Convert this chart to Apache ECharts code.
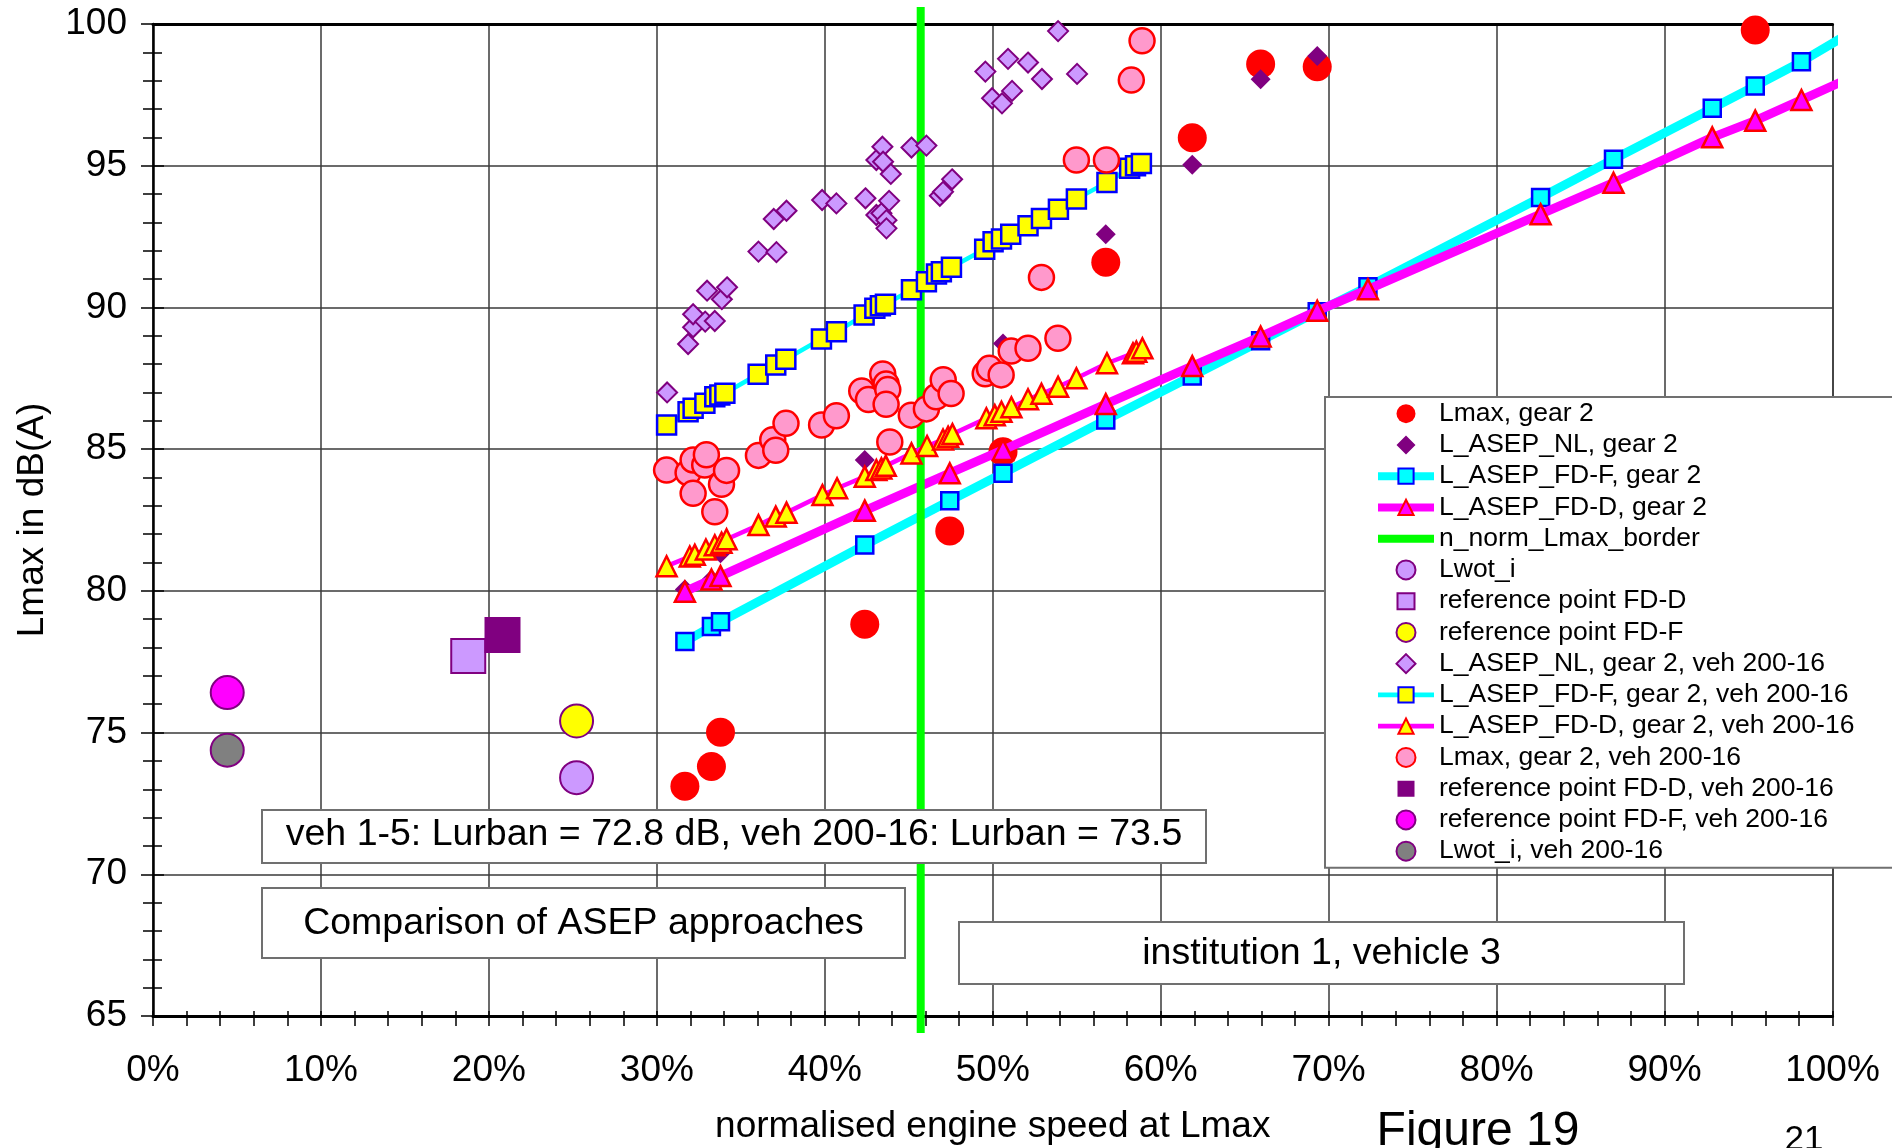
<!DOCTYPE html>
<html>
<head>
<meta charset="utf-8">
<script src="https://cdn.jsdelivr.net/npm/echarts@6/dist/echarts.min.js"></script>
<style>
  html, body { margin: 0; padding: 0; background: #fff; }
  #chart { width: 1892px; height: 1148px; }
</style>
</head>
<body>
<div id="chart"></div>
<script>
// ---- axis tick labels ----
const xTickLabels = ['0%', '10%', '20%', '30%', '40%', '50%', '60%', '70%', '80%', '90%', '100%'];
const yTickLabels = ['65', '70', '75', '80', '85', '90', '95', '100'];

// ---- vehicle 1-5, gear 2: [n_norm in %, level in dB(A)] ----
const lmaxGear2 = [[31.67, 73.11], [33.25, 73.80], [33.79, 75.01], [42.38, 78.82], [47.44, 82.11],
  [50.61, 84.91], [56.73, 91.59], [61.88, 95.99], [65.95, 98.59], [69.32, 98.49], [95.40, 99.79]];
const nlGear2 = [[31.67, 80.05], [33.25, 80.40], [33.79, 81.33], [42.38, 84.62], [50.61, 88.73],
  [56.73, 92.58], [61.88, 95.03], [65.95, 98.05], [69.32, 98.87]];
const fdfGear2 = [[31.67, 78.21], [33.25, 78.74], [33.79, 78.91], [42.38, 81.62], [47.44, 83.18],
  [50.61, 84.15], [56.73, 86.03], [61.88, 87.58], [65.95, 88.82], [69.32, 89.85], [72.34, 90.73],
  [82.62, 93.88], [86.96, 95.23], [92.84, 97.03], [95.40, 97.81], [98.15, 98.67]];
const fdfGear2End = [100.98, 99.67];
const fddGear2 = [[31.67, 79.97], [33.25, 80.40], [33.79, 80.52], [42.38, 82.83], [47.44, 84.15],
  [50.61, 84.97], [56.73, 86.59], [61.88, 87.93], [65.95, 88.97], [69.32, 89.88], [72.34, 90.64],
  [82.62, 93.29], [86.96, 94.40], [92.84, 96.00], [95.40, 96.59], [98.15, 97.32]];
const fddGear2End = [100.98, 98.08];
const borderLine = [[45.71, 100.6], [45.71, 64.4]];
const lwot = [[25.22, 73.41]];
const refFDD = [[18.77, 77.70]];
const refFDF = [[25.22, 75.41]];

// ---- vehicle 200-16, gear 2 ----
const nlVeh = [[30.61, 87.00], [31.86, 88.71], [32.16, 89.30], [32.16, 89.76], [32.88, 89.50],
  [33.45, 89.52], [33.87, 90.29], [32.99, 90.59], [34.18, 90.71], [36.05, 91.97], [37.12, 91.95],
  [36.96, 93.12], [37.72, 93.41], [39.84, 93.79], [40.69, 93.67], [42.42, 93.85], [43.07, 93.26],
  [43.37, 93.32], [43.67, 93.08], [43.67, 92.79], [43.83, 93.76], [43.07, 95.20], [43.43, 95.67],
  [43.47, 95.14], [43.93, 94.71], [45.16, 95.64], [46.05, 95.71], [46.85, 93.94], [47.04, 94.08],
  [47.58, 94.52], [49.56, 98.32], [49.96, 97.38], [50.55, 97.20], [50.91, 98.77], [51.15, 97.64],
  [52.10, 98.64], [52.93, 98.06], [53.89, 99.75], [55.02, 98.24]];
const fdfVeh = [[30.58, 85.85], [31.86, 86.32], [32.16, 86.44], [32.86, 86.62], [33.45, 86.85],
  [33.75, 86.91], [34.05, 86.97], [36.03, 87.64], [37.08, 87.97], [37.68, 88.17], [39.80, 88.89],
  [40.69, 89.14], [42.34, 89.73], [42.98, 89.97], [43.31, 90.06], [43.61, 90.11], [45.16, 90.62],
  [46.05, 90.91], [46.65, 91.18], [46.94, 91.26], [47.54, 91.42], [49.52, 92.05], [50.02, 92.32],
  [50.52, 92.41], [51.07, 92.58], [52.10, 92.88], [52.90, 93.14], [53.91, 93.46], [54.98, 93.83],
  [56.80, 94.41], [58.15, 94.91], [58.50, 95.00], [58.85, 95.08]];
const fddVeh = [[30.58, 80.87], [31.96, 81.21], [32.26, 81.27], [32.92, 81.46], [33.45, 81.61],
  [33.85, 81.70], [34.15, 81.82], [36.05, 82.32], [37.08, 82.62], [37.72, 82.76], [39.86, 83.38],
  [40.73, 83.62], [42.38, 84.03], [43.07, 84.26], [43.37, 84.32], [43.63, 84.41], [45.16, 84.85],
  [46.09, 85.11], [47.04, 85.34], [47.34, 85.44], [47.60, 85.53], [49.62, 86.09], [50.12, 86.20],
  [50.52, 86.32], [51.11, 86.48], [52.10, 86.76], [52.90, 86.95], [53.89, 87.20], [54.98, 87.50],
  [56.80, 88.03], [58.35, 88.38], [58.55, 88.44], [58.91, 88.56]];
const lmaxVeh = [[30.58, 84.26], [31.86, 84.17], [32.16, 84.62], [32.16, 83.44], [32.85, 84.44],
  [32.95, 84.80], [33.45, 82.79], [33.85, 83.76], [34.15, 84.25], [36.05, 84.78], [36.90, 85.33],
  [37.08, 84.96], [37.69, 85.91], [39.81, 85.85], [40.69, 86.18], [42.20, 87.05], [42.60, 86.75],
  [43.45, 87.65], [43.65, 87.30], [43.75, 87.10], [43.65, 86.58], [43.87, 85.25], [45.15, 86.20],
  [46.05, 86.42], [46.63, 86.85], [47.05, 87.45], [47.52, 86.96], [49.55, 87.66], [49.80, 87.85],
  [50.50, 87.62], [51.10, 88.46], [52.10, 88.56], [53.88, 88.91], [52.90, 91.06], [54.98, 95.20],
  [56.77, 95.20], [58.25, 98.02], [58.89, 99.41]];
const refFDDVeh = [[20.81, 78.44]];
const refFDFVeh = [[4.42, 76.41]];
const lwotVeh = [[4.42, 74.38]];

const FONT = '"Liberation Sans", Arial, sans-serif';

// marker styles per series
const styles = {
  lmaxGear2: { symbol: 'circle', size: 29, color: '#ff0000', borderColor: '#ff0000', borderWidth: 0 },
  nlGear2: { symbol: 'diamond', size: 20, color: '#800080', borderColor: '#800080', borderWidth: 0 },
  fdfGear2: { symbol: 'rect', size: 17, color: '#00ffff', borderColor: '#0000ff', borderWidth: 2.5, line: '#00ffff', lineWidth: 9 },
  fddGear2: { symbol: 'triangle', size: 20, color: '#ff00ff', borderColor: '#ff0000', borderWidth: 2.5, line: '#ff00ff', lineWidth: 9 },
  lwot: { symbol: 'circle', size: 33, color: '#cc99ff', borderColor: '#800080', borderWidth: 2 },
  refFDD: { symbol: 'rect', size: 34, color: '#cc99ff', borderColor: '#800080', borderWidth: 2 },
  refFDF: { symbol: 'circle', size: 33, color: '#ffff00', borderColor: '#800080', borderWidth: 2 },
  nlVeh: { symbol: 'diamond', size: 20, color: '#cc99ff', borderColor: '#800080', borderWidth: 2 },
  fdfVeh: { symbol: 'rect', size: 19, color: '#ffff00', borderColor: '#0000ff', borderWidth: 2.5, line: '#00ffff', lineWidth: 4.5 },
  fddVeh: { symbol: 'triangle', size: 20, color: '#ffff00', borderColor: '#ff0000', borderWidth: 2.5, line: '#ff00ff', lineWidth: 4.5 },
  lmaxVeh: { symbol: 'circle', size: 25, color: '#ff99cc', borderColor: '#ff0000', borderWidth: 2.5 },
  refFDDVeh: { symbol: 'rect', size: 36, color: '#800080', borderColor: '#800080', borderWidth: 0 },
  refFDFVeh: { symbol: 'circle', size: 33, color: '#ff00ff', borderColor: '#800080', borderWidth: 2 },
  lwotVeh: { symbol: 'circle', size: 33, color: '#808080', borderColor: '#800080', borderWidth: 2 }
};

// legend icon box is 56 x 19; these outlines keep square / diamond markers undistorted in it
const LEGEND_ICON_W = 56, LEGEND_ICON_H = 19;
const legendIcons = {
  rect: 'path://M0,0L0.01,0M56,19L55.99,19M19.5,1.5L36.5,1.5L36.5,17.5L19.5,17.5Z',
  diamond: 'path://M0,0L0.01,0M56,19L55.99,19M28,0L37.5,9.5L28,19L18.5,9.5Z'
};

let zCounter = 3;
function scatterSeries(name, data, st) {
  return {
    type: 'scatter', name, data, z: zCounter++, clip: false, silent: true,
    symbol: st.symbol, symbolSize: st.size,
    itemStyle: { color: st.color, borderColor: st.borderColor, borderWidth: st.borderWidth, opacity: 1 },
    emphasis: { disabled: true }
  };
}
function lineSeries(name, data, st) {
  return {
    type: 'line', name, data, z: zCounter++, clip: false, silent: true,
    symbol: st.symbol, symbolSize: st.size, showSymbol: true,
    lineStyle: { color: st.line, width: st.lineWidth },
    itemStyle: { color: st.color, borderColor: st.borderColor, borderWidth: st.borderWidth },
    emphasis: { disabled: true }
  };
}

const series = [
  scatterSeries('Lmax, gear 2', lmaxGear2, styles.lmaxGear2),
  scatterSeries('L_ASEP_NL, gear 2', nlGear2, styles.nlGear2),
  lineSeries('L_ASEP_FD-F, gear 2', fdfGear2.concat([{ value: fdfGear2End, symbol: 'none' }]), styles.fdfGear2),
  lineSeries('L_ASEP_FD-D, gear 2', fddGear2.concat([{ value: fddGear2End, symbol: 'none' }]), styles.fddGear2),
  {
    type: 'line', name: 'n_norm_Lmax_border', data: borderLine, z: zCounter++, clip: false, silent: true,
    symbol: 'none', lineStyle: { color: '#00ff00', width: 8 }, itemStyle: { color: '#00ff00' },
    emphasis: { disabled: true }
  },
  scatterSeries('Lwot_i', lwot, styles.lwot),
  scatterSeries('reference point FD-D', refFDD, styles.refFDD),
  scatterSeries('reference point FD-F', refFDF, styles.refFDF),
  scatterSeries('L_ASEP_NL, gear 2, veh 200-16', nlVeh, styles.nlVeh),
  lineSeries('L_ASEP_FD-F, gear 2, veh 200-16', fdfVeh, styles.fdfVeh),
  lineSeries('L_ASEP_FD-D, gear 2, veh 200-16', fddVeh, styles.fddVeh),
  scatterSeries('Lmax, gear 2, veh 200-16', lmaxVeh, styles.lmaxVeh),
  scatterSeries('reference point FD-D, veh 200-16', refFDDVeh, styles.refFDDVeh),
  scatterSeries('reference point FD-F, veh 200-16', refFDFVeh, styles.refFDFVeh),
  scatterSeries('Lwot_i, veh 200-16', lwotVeh, styles.lwotVeh)
];

// legend entries carry the same marker / line look as their series
const legendData = series.map(s => {
  const item = {
    name: s.name,
    itemStyle: {
      color: s.itemStyle.color,
      borderColor: s.itemStyle.borderColor,
      borderWidth: Math.min(s.itemStyle.borderWidth, 2),
      opacity: s.name === 'n_norm_Lmax_border' ? 0 : 1
    }
  };
  if (s.type === 'line') {
    item.lineStyle = { color: s.lineStyle.color, width: s.lineStyle.width >= 8 ? 8 : 4.7, opacity: 1 };
  } else if (legendIcons[s.symbol]) {
    item.icon = legendIcons[s.symbol];
  }
  return item;
});

const tickLine = { color: '#000', width: 1.5 };

const option = {
  animation: false,
  backgroundColor: '#ffffff',
  textStyle: { fontFamily: FONT },
  grid: { left: 153, right: 59.5, top: 24, bottom: 132, containLabel: false, outerBoundsMode: 'none' },
  xAxis: [
    {
      type: 'value', min: 0, max: 100, interval: 10, position: 'bottom',
      axisLine: { show: true, onZero: false, lineStyle: { color: '#000', width: 3 } },
      axisTick: { show: true, inside: false, length: 10, lineStyle: tickLine },
      minorTick: { show: true, splitNumber: 5, length: 10, lineStyle: tickLine },
      splitLine: { show: true, lineStyle: { color: '#3a3a3a', width: 1.5 } },
      minorSplitLine: { show: false },
      axisLabel: {
        show: true, margin: 36, fontSize: 37, color: '#000', fontFamily: FONT,
        formatter: v => xTickLabels[Math.round(v / 10)]
      },
      name: 'normalised engine speed at Lmax', nameLocation: 'middle', nameGap: 92,
      nameTextStyle: { fontSize: 37, color: '#000', fontFamily: FONT }
    },
    {
      type: 'value', min: 0, max: 100, interval: 10, position: 'bottom',
      axisLine: { show: false, onZero: false },
      axisTick: { show: true, inside: true, length: 5, lineStyle: tickLine },
      minorTick: { show: true, splitNumber: 5, length: 5, lineStyle: tickLine },
      splitLine: { show: false }, axisLabel: { show: false }
    },
    {
      type: 'value', min: 0, max: 100, interval: 10, position: 'top',
      axisLine: { show: true, onZero: false, lineStyle: { color: '#000', width: 3 } },
      axisTick: { show: false }, minorTick: { show: false },
      splitLine: { show: false }, axisLabel: { show: false }
    }
  ],
  yAxis: [
    {
      type: 'value', min: 65, max: 100, interval: 5, position: 'left',
      axisLine: { show: true, onZero: false, lineStyle: { color: '#000', width: 2.5 } },
      axisTick: { show: true, inside: false, length: 12, lineStyle: tickLine },
      minorTick: { show: true, splitNumber: 5, length: 10, lineStyle: tickLine },
      splitLine: { show: true, lineStyle: { color: '#3a3a3a', width: 1.5 } },
      minorSplitLine: { show: false },
      axisLabel: {
        show: true, margin: 26, fontSize: 37, color: '#000', fontFamily: FONT,
        formatter: v => yTickLabels[Math.round((v - 65) / 5)]
      },
      name: 'Lmax in dB(A)', nameLocation: 'middle', nameGap: 102,
      nameTextStyle: { fontSize: 37, color: '#000', fontFamily: FONT }
    },
    {
      type: 'value', min: 65, max: 100, interval: 5, position: 'left',
      axisLine: { show: false, onZero: false },
      axisTick: { show: true, inside: true, length: 11, lineStyle: tickLine },
      minorTick: { show: true, splitNumber: 5, length: 9, lineStyle: tickLine },
      splitLine: { show: false }, axisLabel: { show: false }
    },
    {
      type: 'value', min: 65, max: 100, interval: 5, position: 'right',
      axisLine: { show: true, onZero: false, lineStyle: { color: '#3a3a3a', width: 1.5 } },
      axisTick: { show: false }, minorTick: { show: false },
      splitLine: { show: false }, axisLabel: { show: false }
    }
  ],
  legend: {
    show: true, orient: 'vertical', left: 1325, top: 397, z: 100,
    padding: [1, 140, 1, 49],
    itemWidth: LEGEND_ICON_W, itemHeight: LEGEND_ICON_H, itemGap: 0,
    backgroundColor: '#ffffff', borderColor: '#707070', borderWidth: 2, borderRadius: 0,
    selectedMode: false,
    textStyle: { fontSize: 26.5, color: '#000', fontFamily: FONT, lineHeight: 31.25 },
    data: legendData
  },
  graphic: {
    elements: [
      { type: 'rect', z: 90, shape: { x: 262, y: 810, width: 944, height: 53 },
        style: { fill: '#fff', stroke: '#707070', lineWidth: 2 } },
      { type: 'text', z: 91, x: 734, y: 835,
        style: { text: 'veh 1-5: Lurban = 72.8 dB, veh 200-16: Lurban = 73.5', fontSize: 37.5, fontFamily: FONT,
          fill: '#000', align: 'center', verticalAlign: 'middle' } },
      { type: 'rect', z: 90, shape: { x: 262, y: 888, width: 643, height: 70 },
        style: { fill: '#fff', stroke: '#707070', lineWidth: 2 } },
      { type: 'text', z: 91, x: 583.5, y: 924,
        style: { text: 'Comparison of ASEP approaches', fontSize: 37.5, fontFamily: FONT,
          fill: '#000', align: 'center', verticalAlign: 'middle' } },
      { type: 'rect', z: 90, shape: { x: 959, y: 922, width: 725, height: 62 },
        style: { fill: '#fff', stroke: '#707070', lineWidth: 2 } },
      { type: 'text', z: 91, x: 1321.5, y: 954,
        style: { text: 'institution 1, vehicle 3', fontSize: 37.5, fontFamily: FONT,
          fill: '#000', align: 'center', verticalAlign: 'middle' } },
      { type: 'text', z: 91, x: 1478, y: 1132,
        style: { text: 'Figure 19', fontSize: 48, fontFamily: FONT,
          fill: '#000', align: 'center', verticalAlign: 'middle' } },
      { type: 'text', z: 91, x: 1804, y: 1140,
        style: { text: '21', fontSize: 35, fontFamily: FONT,
          fill: '#000', align: 'center', verticalAlign: 'middle' } }
    ]
  },
  series
};

const chart = echarts.init(document.getElementById('chart'), null, { renderer: 'canvas', width: 1892, height: 1148 });
chart.setOption(option);
</script>
</body>
</html>
